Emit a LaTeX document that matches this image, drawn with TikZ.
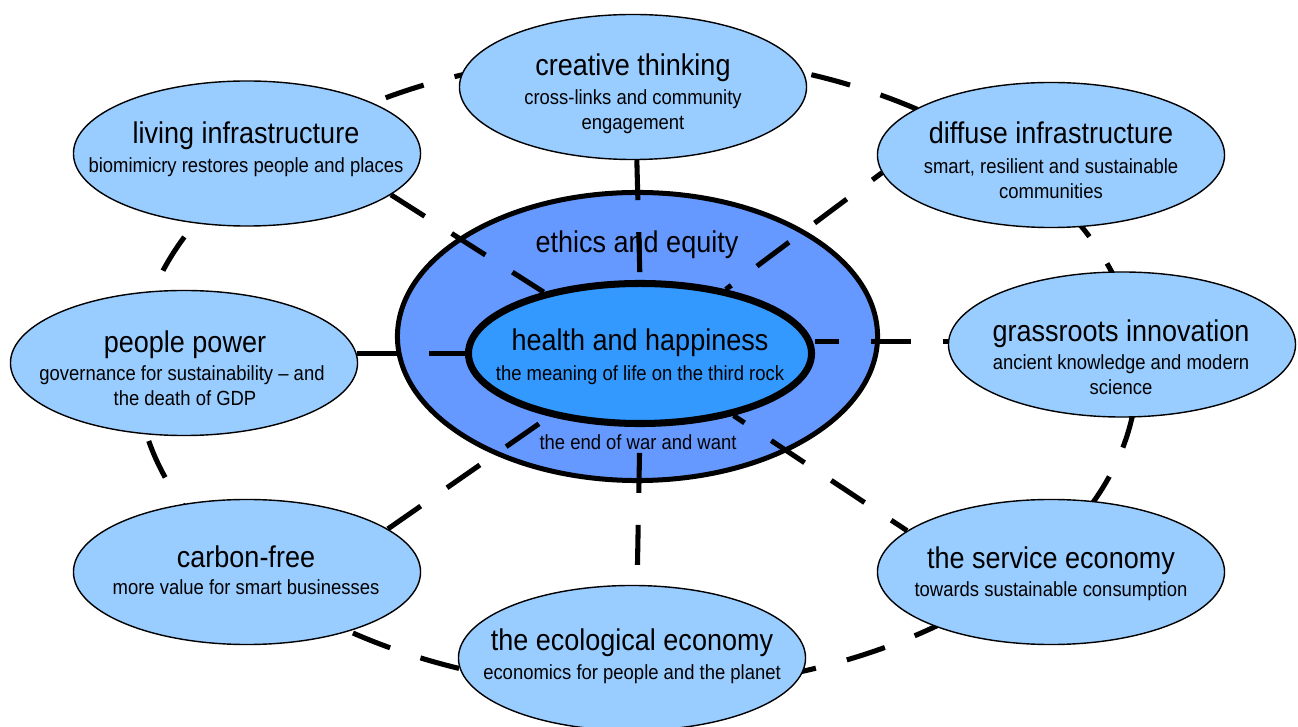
\documentclass[tikz,border=0pt]{standalone}
\usepackage{fontspec}
\setmainfont{Liberation Sans}[FakeStretch=0.9]
\usetikzlibrary{shapes.geometric}
\definecolor{nodeblue}{HTML}{99CCFF}
\definecolor{ringblue}{HTML}{6699FF}
\definecolor{coreblue}{HTML}{3399FF}
\pgfdeclarelayer{under}
\pgfdeclarelayer{links}
\pgfsetlayers{under,links,main}
\newcommand\headsize{\fontsize{21.34}{25}\selectfont}
\newcommand\capsize{\fontsize{14.58}{18}\selectfont}
\begin{document}
\begin{tikzpicture}[x=0.025cm,y=-0.025cm,
  theme/.style={ellipse, draw=black, line width=1pt, fill=nodeblue,
    minimum width=8.675cm, minimum height=3.625cm, inner sep=0pt},
  heading/.style={font=\headsize, text height=15.4pt, text depth=4.3pt, inner sep=0pt, yshift=-0.075cm},
  caption/.style={font=\capsize, text height=10.5pt, text depth=2.9pt, inner sep=0pt, yshift=-0.05cm},
  link/.style={line width=3.6pt, dash pattern=on 1cm off 0.8cm}]
\useasboundingbox (0,0) rectangle (1298,727);

% outer themes
\node[theme] (creative)   at (633,87)     {};
\node[theme] (living)     at (247,153.5)  {};
\node[theme] (diffuse)    at (1051,155)   {};
\node[theme] (people)     at (184,363)    {};
\node[theme] (grassroots) at (1122,344.5) {};
\node[theme] (carbon)     at (247,572)    {};
\node[theme] (service)    at (1051,572)   {};
\node[theme] (ecological) at (632,658)    {};

% centre: ethics ring and core
\begin{pgfonlayer}{under}
\fill[white] (0,0) rectangle (1298,727);
\node[ellipse, draw=black, line width=3.56pt, fill=ringblue,
  minimum width=12cm, minimum height=7.2cm, inner sep=0pt] (ethics) at (637.5,336.5) {};
\node[heading] (ethicsT) at (637,242) {ethics and equity};
\node[caption] (warT) at (638,442) {the end of war and want};
\end{pgfonlayer}
\node[ellipse, draw=black, line width=5pt, fill=coreblue,
  minimum width=8.575cm, minimum height=3.5cm, inner sep=0pt] (core) at (640,353.5) {};
\node[heading] (coreT) at (640,340) {health and happiness};
\node[caption] (coreS) at (640,373) {the meaning of life on the third rock};

% dashed loop and spokes
\begin{pgfonlayer}{links}
\draw[link, dash phase=1.75cm] (637,372) ellipse [x radius=12.5cm, y radius=7.925cm];
\draw[link] (creative.-87) -- (core.north);
\draw[link] (living.-16.9) -- (core);
\draw[link, dash phase=0.7cm] (diffuse.186.6) -- (core);
\draw[link] (people.3.6) -- (people.3.6 -| core.west);
\draw[link, dash phase=0.875cm] (grassroots.179.5) -- (grassroots.179.5 -| core.east);
\draw[link] (carbon.17.3) -- (core);
\draw[link, dash phase=0.525cm] (service.164.6) -- (core);
\draw[link, dash phase=1.3cm] (ecological.86) -- (core.south);
\end{pgfonlayer}

% theme texts
\node[heading] (creativeT) at (633,65) {creative thinking};
\node[caption] (creativeS1) at (633,97) {cross-links and community};
\node[caption] (creativeS2) at (633,122) {engagement};
\node[heading] (livingT) at (246,133) {living infrastructure};
\node[caption] (livingS) at (246,165) {biomimicry restores people and places};
\node[heading] (diffuseT) at (1051,133) {diffuse infrastructure};
\node[caption] (diffuseS1) at (1051,166) {smart, resilient and sustainable};
\node[caption] (diffuseS2) at (1051,191) {communities};
\node[heading] (peopleT) at (185,342) {people power};
\node[caption] (peopleS1) at (182,373) {governance for sustainability – and};
\node[caption] (peopleS2) at (185,398) {the death of GDP};
\node[heading] (grassT) at (1121,331) {grassroots innovation};
\node[caption] (grassS1) at (1121,362) {ancient knowledge and modern};
\node[caption] (grassS2) at (1121,387) {science};
\node[heading] (carbonT) at (246,557) {carbon-free};
\node[caption] (carbonS) at (246,587) {more value for smart businesses};
\node[heading] (serviceT) at (1051,558) {the service economy};
\node[caption] (serviceS) at (1051,589) {towards sustainable consumption};
\node[heading] (ecoT) at (632,640) {the ecological economy};
\node[caption] (ecoS) at (632,672) {economics for people and the planet};
\end{tikzpicture}
\end{document}
